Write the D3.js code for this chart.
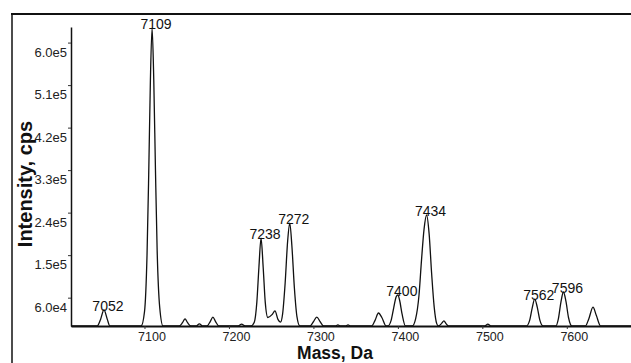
<!DOCTYPE html>
<html>
<head>
<meta charset="utf-8">
<script src="https://cdn.jsdelivr.net/npm/d3@7"></script>
<style>
  html, body { margin: 0; padding: 0; background: #fff; }
  svg { display: block; }
  text { font-family: "Liberation Sans", Arial, sans-serif; }
</style>
</head>
<body>
<svg id="chart" width="631" height="363"></svg>
<script>
// ---- data ----
const xTickValues = [7100, 7200, 7300, 7400, 7500, 7600];
const xTickLabels = ["7100", "7200", "7300", "7400", "7500", "7600"];
const yTickValues = [60000, 150000, 240000, 330000, 420000, 510000, 600000];
const yTickLabels = ["6.0e4", "1.5e5", "2.4e5", "3.3e5", "4.2e5", "5.1e5", "6.0e5"];

// spectrum: mass (Da)
const spectrumMass = [
  7013, 7040,
  7044, 7048, 7052, 7056, 7059,
  7096, 7100, 7103, 7105, 7107, 7109, 7111, 7113, 7115, 7118, 7122,
  7141, 7145, 7148, 7151, 7155,
  7161, 7165, 7169,
  7174, 7178, 7181, 7184, 7188,
  7211, 7215, 7219,
  7226, 7230, 7233, 7235.5, 7238, 7240.5, 7243, 7246, 7251, 7254.5, 7258, 7261,
  7263.5, 7266.5, 7269.5, 7272, 7274.5, 7277.5, 7280.5, 7284,
  7296, 7300, 7304, 7308, 7312,
  7326, 7329, 7332, 7338, 7341, 7344,
  7369, 7373, 7377, 7381, 7386,
  7388, 7392, 7395, 7398, 7400, 7402, 7405, 7409,
  7417, 7421, 7425, 7428, 7431, 7434, 7437, 7440, 7443, 7446, 7448,
  7452, 7454.5, 7457, 7460,
  7503, 7506.5, 7510,
  7552, 7556, 7559, 7562, 7565, 7568, 7572,
  7587, 7590, 7593, 7596, 7599, 7602, 7606,
  7622, 7626, 7631, 7635, 7640,
  7676
];
// spectrum: intensity (cps)
const spectrumIntensity = [
  0, 0,
  0, 14000, 34000, 14000, 0,
  0, 30000, 150000, 320000, 520000, 631000, 520000, 330000, 160000, 40000, 0,
  0, 7000, 15000, 7000, 0,
  0, 4500, 0,
  0, 10000, 19000, 10000, 0,
  0, 4000, 0,
  0, 8000, 50000, 125000, 186000, 125000, 50000, 18000, 24000, 32000, 14000, 8000,
  25000, 90000, 180000, 218000, 170000, 80000, 20000, 0,
  0, 9000, 19000, 9000, 0,
  0, 2500, 0, 0, 2500, 0,
  0, 12000, 27500, 18000, 0,
  0, 12000, 38000, 62000, 66000, 55000, 25000, 0,
  0, 15000, 65000, 140000, 205000, 235000, 195000, 110000, 40000, 5000, 0,
  6000, 11000, 5000, 0,
  0, 4000, 0,
  0, 12000, 38000, 57000, 40000, 13000, 0,
  0, 15000, 50000, 72000, 52000, 18000, 0,
  0, 15000, 40000, 22000, 0,
  0
];

const peakLabels = ["7052", "7109", "7238", "7272", "7400", "7434", "7562", "7596"];
const peakMass = [7052, 7109, 7238, 7272, 7400, 7434, 7562, 7596];
const peakIntensity = [34000, 631000, 186000, 218000, 66000, 235000, 57000, 72000];

// ---- drawing ----
const svg = d3.select("#chart");

const x = d3.scaleLinear().domain([7013, 7676]).range([71, 631]);
const y = d3.scaleLinear().domain([0, 633000]).range([326, 27]);

// outer frame (top + left)
svg.append("line").attr("x1", 11).attr("x2", 631).attr("y1", 14).attr("y2", 14)
  .attr("stroke", "#111").attr("stroke-width", 2);
svg.append("line").attr("x1", 12).attr("x2", 12).attr("y1", 13).attr("y2", 363)
  .attr("stroke", "#111").attr("stroke-width", 1.5);

// spectrum line
const pts = spectrumMass.map((m, i) => [m, spectrumIntensity[i]]);
const line = d3.line().x(d => x(d[0])).y(d => y(d[1])).curve(d3.curveMonotoneX);
svg.append("path").datum(pts).attr("d", line)
  .attr("fill", "none").attr("stroke", "#111").attr("stroke-width", 1.3);

// x axis
const xAxis = d3.axisBottom(x).tickValues(xTickValues)
  .tickFormat((d, i) => xTickLabels[i]).tickSize(3).tickSizeOuter(0).tickPadding(3);
const gx = svg.append("g").attr("transform", "translate(0,326)").call(xAxis);
gx.select(".domain").attr("stroke", "#111").attr("stroke-width", 2);
gx.selectAll(".tick line").attr("stroke", "#333");
gx.selectAll(".tick text").attr("dx", 7).attr("fill", "#222")
  .style("font-size", "12.5px").style("font-family", "'Liberation Sans', Arial, sans-serif");

// y axis
const yAxis = d3.axisLeft(y).tickValues(yTickValues)
  .tickFormat((d, i) => yTickLabels[i]).tickSize(3).tickSizeOuter(0).tickPadding(1);
const gy = svg.append("g").attr("transform", "translate(71,0)").call(yAxis);
gy.select(".domain").attr("stroke", "#111").attr("stroke-width", 1.5);
gy.selectAll(".tick line").attr("stroke", "#333");
gy.selectAll(".tick text").attr("y", 9.5).attr("fill", "#222")
  .style("font-size", "13px").style("font-family", "'Liberation Sans', Arial, sans-serif");

// peak labels
svg.append("g").selectAll("text").data(peakLabels).join("text")
  .attr("x", (d, i) => x(peakMass[i]) + 4)
  .attr("y", (d, i) => y(peakIntensity[i]) + 1)
  .attr("text-anchor", "middle")
  .attr("fill", "#111")
  .style("font-size", "14px")
  .text(d => d);

// axis titles
svg.append("text").attr("x", 335).attr("y", 359).attr("text-anchor", "middle")
  .style("font-size", "17.5px").style("font-weight", "bold").attr("fill", "#111")
  .text("Mass, Da");
svg.append("text").attr("transform", "translate(32,184) rotate(-90)")
  .attr("text-anchor", "middle")
  .style("font-size", "20px").style("font-weight", "bold").attr("fill", "#111")
  .text("Intensity, cps");
</script>
</body>
</html>
